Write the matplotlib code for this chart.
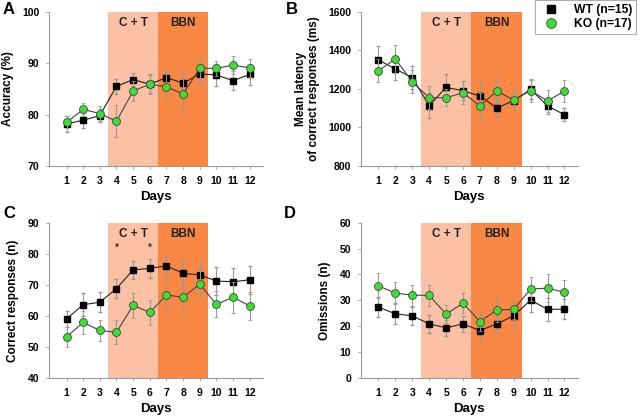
import numpy as np
import matplotlib
matplotlib.use('Agg')
import matplotlib.pyplot as plt
from matplotlib.lines import Line2D

plt.rcParams['font.family'] = ['Liberation Sans', 'DejaVu Sans']
plt.rcParams['font.weight'] = 'bold'

days = np.arange(1, 13)

# A - accuracy (%)
acc_wt = [78.2, 78.9, 79.8, 85.5, 86.8, 85.9, 87.2, 86.1, 87.9, 87.7, 86.6, 87.8]
acc_wt_err = [1.6, 1.5, 1.2, 1.5, 1.2, 1.8, 1.4, 2.0, 1.8, 2.2, 1.9, 2.0]
acc_ko = [78.5, 81.0, 80.2, 78.7, 84.6, 85.9, 85.4, 84.0, 89.0, 89.0, 89.6, 89.1]
acc_ko_err = [1.2, 1.2, 1.5, 3.1, 2.0, 1.9, 2.6, 3.6, 1.8, 1.5, 1.7, 1.7]

# B - latency (ms)
lat_wt = [1350, 1303, 1258, 1113, 1208, 1190, 1163, 1101, 1139, 1198, 1111, 1066]
lat_wt_err = [70, 55, 60, 65, 70, 50, 75, 45, 50, 50, 40, 35]
lat_ko = [1294, 1355, 1236, 1154, 1154, 1180, 1111, 1189, 1142, 1191, 1137, 1189]
lat_ko_err = [60, 75, 60, 60, 45, 60, 70, 60, 50, 60, 55, 55]

# C - correct responses (n)
cor_wt = [59.0, 63.6, 64.4, 68.8, 74.8, 75.3, 76.1, 73.7, 73.2, 71.2, 71.0, 71.6]
cor_wt_err = [2.7, 3.7, 3.2, 3.2, 2.8, 3.0, 3.3, 4.3, 4.0, 4.5, 4.3, 4.5]
cor_ko = [53.2, 57.9, 55.3, 54.7, 63.4, 61.1, 66.7, 66.0, 70.2, 63.7, 66.0, 63.2]
cor_ko_err = [3.2, 3.7, 3.3, 3.9, 4.1, 3.9, 5.2, 5.1, 4.2, 4.2, 5.0, 4.5]

# D - omissions (n)
om_wt = [27.4, 24.8, 24.0, 20.9, 19.4, 20.9, 18.3, 20.9, 24.0, 30.1, 26.5, 26.6]
om_wt_err = [4.0, 4.0, 3.5, 3.5, 3.0, 3.0, 3.5, 3.5, 3.5, 4.5, 4.5, 4.0]
om_ko = [35.6, 32.8, 32.0, 31.9, 24.7, 28.9, 21.8, 26.3, 26.5, 34.4, 34.7, 33.1]
om_ko_err = [4.8, 4.2, 4.0, 4.0, 3.5, 3.8, 3.5, 4.5, 3.8, 4.5, 5.5, 4.8]

light = '#fcc0a4'
dark = '#f98844'
green = '#39e030'
grey = '#999999'

fig = plt.figure(figsize=(6.4, 4.19), dpi=100)

# letter position in pixels (x, y from top)
panels = [
    ('A', (3, 2), [0.0766, 0.6038, 0.3344, 0.3682], acc_wt, acc_wt_err, acc_ko, acc_ko_err,
     (70, 100), [70, 80, 90, 100], 'Accuracy (%)'),
    ('B', (286, 2), [0.5636, 0.6038, 0.3395, 0.3682], lat_wt, lat_wt_err, lat_ko, lat_ko_err,
     (800, 1600), [800, 1000, 1200, 1400, 1600], 'Mean latency\nof correct responses (ms)'),
    ('C', (3, 206), [0.0766, 0.0979, 0.3344, 0.3706], cor_wt, cor_wt_err, cor_ko, cor_ko_err,
     (40, 90), [40, 50, 60, 70, 80, 90], 'Correct responses (n)'),
    ('D', (284, 206), [0.5636, 0.0979, 0.3395, 0.3706], om_wt, om_wt_err, om_ko, om_ko_err,
     (0, 60), [0, 10, 20, 30, 40, 50, 60], 'Omissions (n)'),
]

for letter, lpos, pos, wt, wt_err, ko, ko_err, ylim, yt, ylab in panels:
    ax = fig.add_axes(pos)
    ax.axvspan(3.5, 6.5, color=light, lw=0, zorder=0)
    ax.axvspan(6.5, 9.5, color=dark, lw=0, zorder=0)
    top = ylim[1]
    span = ylim[1] - ylim[0]
    ax.text(5, top - 0.035 * span, 'C + T', ha='center', va='top', fontsize=8.5, fontweight='bold', color='#222222')
    ax.text(8, top - 0.035 * span, 'BBN', ha='center', va='top', fontsize=8.5, fontweight='bold', color='#222222')

    ax.errorbar(days, wt, yerr=wt_err, color='#222222', lw=0.8, marker='s', ms=4.7,
                mfc='black', mec='black', ecolor=grey, elinewidth=0.8, capsize=1.5, zorder=3)
    ax.errorbar(days, ko, yerr=ko_err, color='#444444', lw=0.8, marker='o', ms=5.7,
                mfc=green, mec='#444444', mew=0.6, ecolor=grey, elinewidth=0.8, capsize=1.5, zorder=4)

    ax.set_xlim(-0.05, 12.8)
    ax.set_ylim(*ylim)
    ax.set_xticks(days)
    ax.set_yticks(yt)
    ax.tick_params(labelsize=7.5, length=2, color=grey, width=0.6, pad=5)
    for lbl in ax.get_xticklabels() + ax.get_yticklabels():
        lbl.set_fontweight('bold')
    for s in ['top', 'right']:
        ax.spines[s].set_visible(False)
    for s in ['left', 'bottom']:
        ax.spines[s].set_color(grey)
        ax.spines[s].set_linewidth(0.8)
    ax.set_xlabel('Days', fontsize=9.5, fontweight='bold', labelpad=4)
    ax.set_ylabel(ylab, fontsize=8.5, fontweight='bold', labelpad=6, linespacing=1.05)
    ax.patch.set_alpha(0)

    fig.text(lpos[0] / 640, 1 - lpos[1] / 419, letter, fontsize=12, fontweight='bold',
             va='top', ha='left')

    if letter == 'C':
        for d in [4, 6]:
            ax.text(d, 82, '*', ha='center', va='center', fontsize=7, color='#333333')

handles = [
    Line2D([], [], ls='none', marker='s', ms=6, mfc='black', mec='black'),
    Line2D([], [], ls='none', marker='o', ms=7, mfc=green, mec='#444444', mew=0.6),
]
leg = fig.legend(handles, ['WT (n=15)', 'KO (n=17)'], loc='upper right',
                 bbox_to_anchor=(636 / 640, 0.999), borderaxespad=0, fontsize=8.7,
                 frameon=True, fancybox=False, borderpad=0.3, handletextpad=0.9,
                 labelspacing=0.2, handlelength=2.0)
leg.get_frame().set_edgecolor(grey)
leg.get_frame().set_linewidth(0.8)
for t in leg.get_texts():
    t.set_fontweight('bold')

fig.savefig('out.png', dpi=100)
